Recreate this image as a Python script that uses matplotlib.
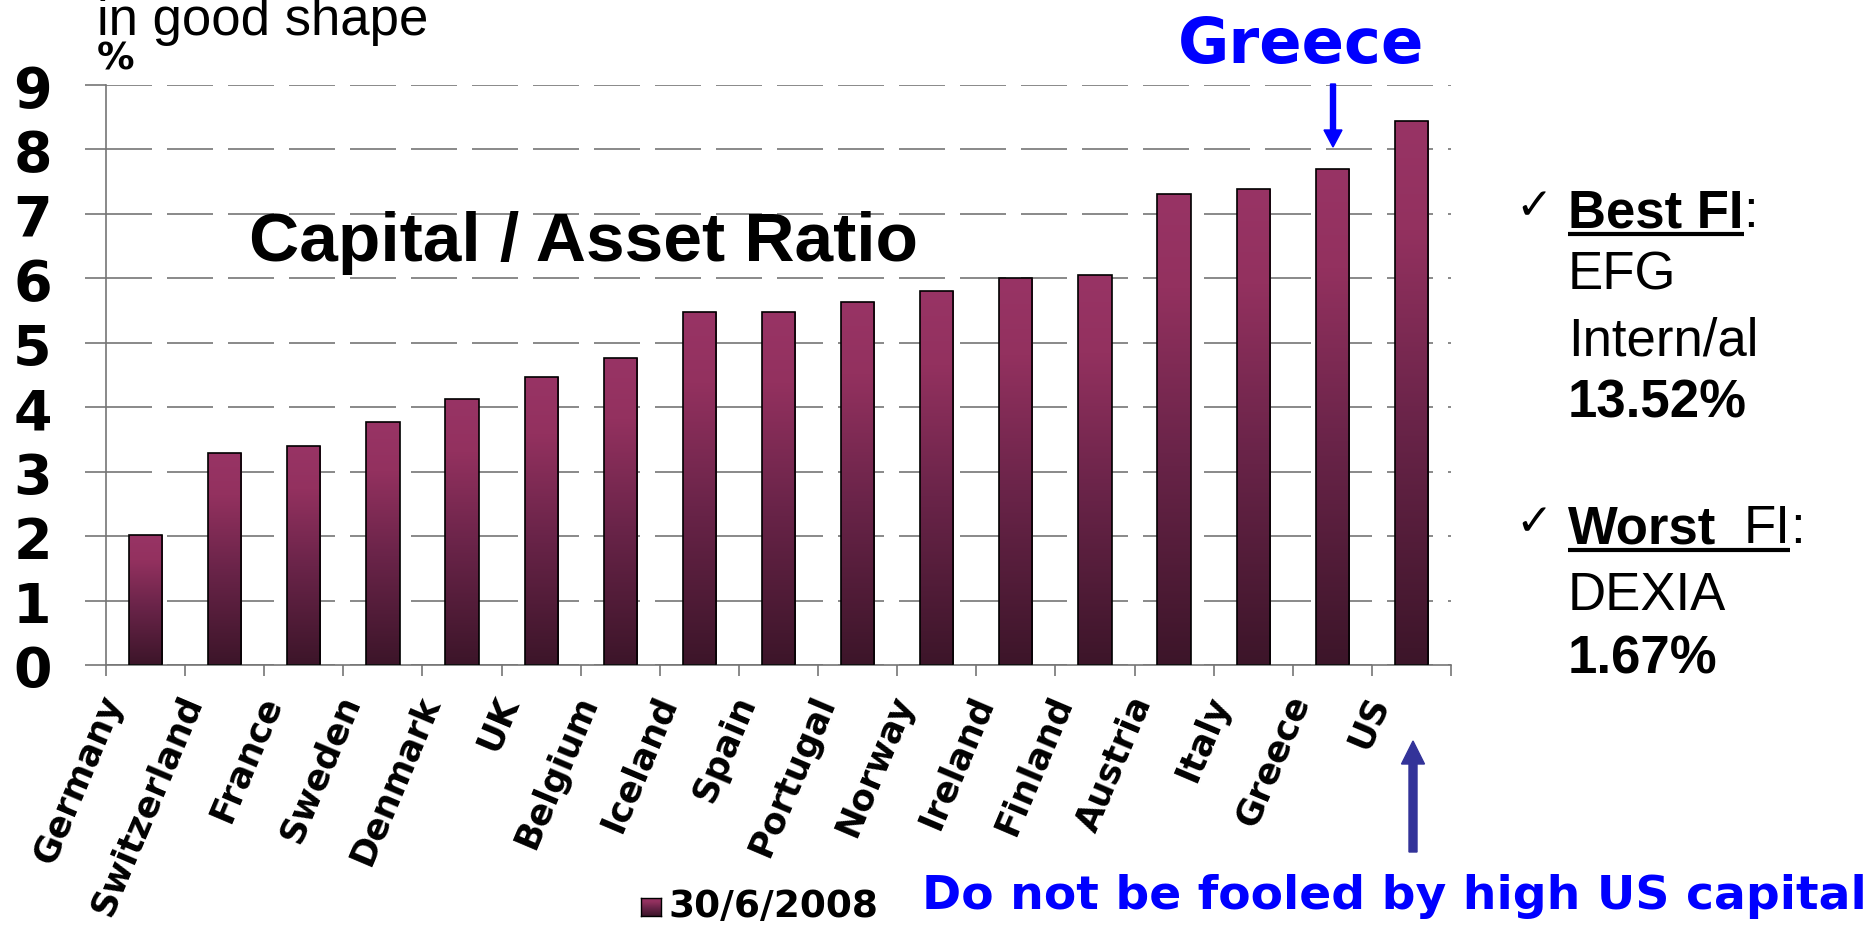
import numpy as np
import matplotlib
matplotlib.use("Agg")
import matplotlib.pyplot as plt
from matplotlib.colors import LinearSegmentedColormap
from matplotlib.patches import FancyArrow
from matplotlib.lines import Line2D
from matplotlib.transforms import ScaledTranslation, IdentityTransform, blended_transform_factory

# ---- data -------------------------------------------------------------
countries = ["Germany", "Switzerland", "France", "Sweden", "Denmark", "UK",
             "Belgium", "Iceland", "Spain", "Portugal", "Norway", "Ireland",
             "Finland", "Austria", "Italy", "Greece", "US"]
ratios = [2.02, 3.29, 3.40, 3.77, 4.13, 4.47, 4.77, 5.47, 5.47, 5.64, 5.81,
          6.01, 6.05, 7.31, 7.39, 7.70, 8.44]
yticks = list(range(10))
series_label = "30/6/2008"

# ---- figure in pixel terms -------------------------------------------
W, H = 1876, 929
fig = plt.figure(figsize=(W / 100, H / 100), dpi=100)
fig.patch.set_facecolor("white")


def fx(px):
    return px / W


def fy(py):
    return 1 - py / H


GRAY = "#757575"
BAR_CMAP = LinearSegmentedColormap.from_list(
    "plum", [(0.0, "#3c1529"), (0.45, "#6a2449"), (0.8, "#93315f"), (1.0, "#983465")])
grad = np.linspace(0, 1, 256).reshape(-1, 1)

ax = fig.add_axes([fx(106), fy(666), fx(1451) - fx(106), fy(86) - fy(666)])
xs = np.arange(len(countries))
bars = ax.bar(xs, ratios, width=0.42, facecolor="none", edgecolor="black",
              linewidth=1.2, zorder=3)
for rect in bars:
    x0, w, h = rect.get_x(), rect.get_width(), rect.get_height()
    im = ax.imshow(grad, extent=[x0, x0 + w, 0, h], origin="lower", aspect="auto",
                   cmap=BAR_CMAP, zorder=2)
    im.set_clip_path(rect)

ax.set_xlim(-0.5, len(countries) - 0.5)
ax.set_ylim(0, 9)
ax.set_yticks(yticks)
ax.set_yticklabels([str(v) for v in yticks], fontsize=40, fontweight="bold",
                   family="DejaVu Sans")
ax.tick_params(axis="y", length=15, width=1.2, color=GRAY, pad=24)
ax.set_xticks(xs)
ax.set_xticklabels([])
ax.tick_params(axis="x", which="major", length=0)
ax.set_xticks(np.arange(-0.5, len(countries)), minor=True)
ax.tick_params(axis="x", which="minor", length=8, width=1.2, color=GRAY)
ax.set_axisbelow(True)
ax.yaxis.grid(True, color=GRAY, linewidth=1.2, linestyle=(0, (27.6, 9)))
for s in ("top", "right"):
    ax.spines[s].set_visible(False)
for s in ("left", "bottom"):
    ax.spines[s].set_color(GRAY)
    ax.spines[s].set_linewidth(1.2)

# rotated category labels
xlab_trans = blended_transform_factory(ax.transData, ax.transAxes) + \
    ScaledTranslation(-32 / 100, -31 / 100, fig.dpi_scale_trans)
for i, name in enumerate(countries):
    ax.text(i, 0, name, transform=xlab_trans, rotation=67, rotation_mode="anchor",
            ha="right", va="center", fontsize=25.5, fontweight="bold",
            family="DejaVu Sans", clip_on=False)

# ---- texts --------------------------------------------------------------
fig.text(fx(97), fy(35), "in good shape", fontsize=38, family="Liberation Sans",
         va="baseline", ha="left")
fig.text(fx(97), fy(70), "%", fontsize=27, fontweight="bold", family="DejaVu Sans",
         va="baseline", ha="left")
fig.text(fx(249), fy(261), "Capital / Asset Ratio", fontsize=50, fontweight="bold",
         family="Liberation Sans", va="baseline", ha="left")
fig.text(fx(1178), fy(63), "Greece", fontsize=45, fontweight="bold",
         family="DejaVu Sans", color="#0000ff", va="baseline", ha="left")
fig.text(fx(922), fy(909), "Do not be fooled by high US capital", fontsize=34,
         fontweight="bold", family="DejaVu Sans", color="#0000ff",
         va="baseline", ha="left")

# legend entry
lax = fig.add_axes([fx(641), fy(917), fx(661) - fx(641), (917 - 899) / H])
lax.imshow(grad, origin="lower", aspect="auto", cmap=BAR_CMAP)
lax.set_xticks([])
lax.set_yticks([])
for s in lax.spines.values():
    s.set_color("black")
    s.set_linewidth(1)
fig.text(fx(668), fy(917), series_label, fontsize=27, fontweight="bold",
         family="DejaVu Sans", va="baseline", ha="left")

# arrows
fig.add_artist(FancyArrow(1333, H - 85, 0, -(148 - 85), width=5, head_width=18,
                          head_length=17, length_includes_head=True,
                          color="#0000ff", transform=IdentityTransform()))
fig.add_artist(FancyArrow(1413, H - 853, 0, 853 - 742, width=8, head_width=23,
                          head_length=23, length_includes_head=True,
                          color="#333399", transform=IdentityTransform()))

# right hand notes
fig.canvas.draw()
renderer = fig.canvas.get_renderer()
SIZE = 38
RFONT = "Liberation Sans"


def put(x, y, txt, weight="normal"):
    return fig.text(fx(x), fy(y), txt, fontsize=SIZE, fontweight=weight,
                    family=RFONT, va="baseline", ha="left")


def underline(x0, x1, y):
    fig.add_artist(Line2D([x0, x1], [H - y, H - y], color="black", linewidth=3,
                          transform=IdentityTransform(), solid_capstyle="butt"))


for base in (227, 543):
    fig.text(fx(1515), fy(base - 8), "\u2713", fontsize=32, family="DejaVu Sans",
             va="baseline", ha="left")

b = put(1568, 227, "Best FI", "bold").get_window_extent(renderer)
underline(1568, b.x1, 235)
put(b.x1, 227, ":")
put(1568, 290, "EFG")
put(1568, 355, "Intern/al")
put(1568, 418, "13.52%", "bold")

b1 = put(1568, 543, "Worst", "bold").get_window_extent(renderer)
b2 = put(b1.x1 + 27, 543, "FI").get_window_extent(renderer)
underline(1568, b2.x1, 551)
put(b2.x1, 543, ":")
put(1568, 610, "DEXIA")
put(1568, 673, "1.67%", "bold")

fig.savefig("out.png", dpi=100, facecolor="white")
